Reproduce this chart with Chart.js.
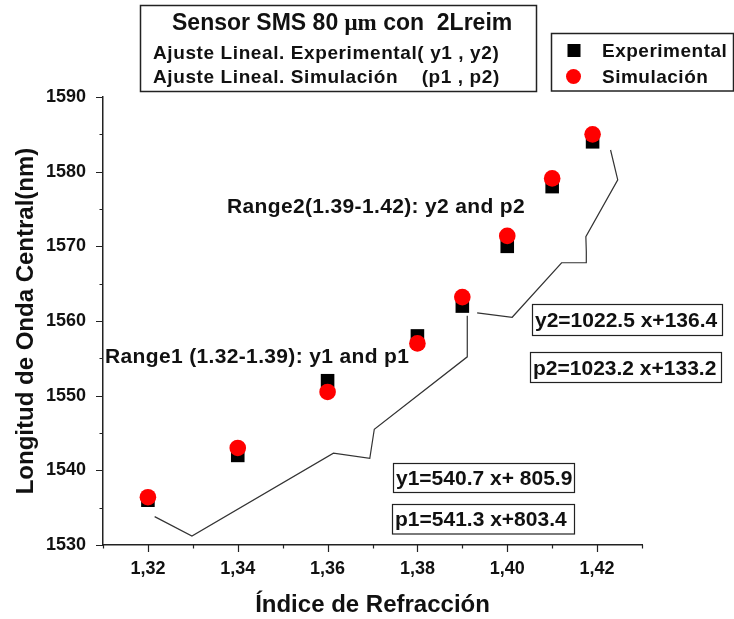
<!DOCTYPE html>
<html>
<head>
<meta charset="utf-8">
<script src="https://cdn.jsdelivr.net/npm/chart.js@4.4.0/dist/chart.umd.min.js"></script>
<style>
  html, body { margin: 0; padding: 0; background: #fff; }
  #wrap { width: 734px; height: 619px; }
</style>
</head>
<body>
<div id="wrap"><canvas id="c" width="734" height="619"></canvas></div>
<script>
// ---- data ----
const indices      = [1.32, 1.34, 1.36, 1.38, 1.39, 1.40, 1.41, 1.419];
const experimental = [1536, 1542, 1552, 1558, 1562, 1570, 1578, 1584];
const simulacion   = [1536.4, 1543, 1550.5, 1557, 1563.2, 1571.4, 1579.1, 1585];

// hand drawn guide line (two pieces)
const guideAX = [1.3215, 1.3298, 1.3613, 1.3694, 1.3704, 1.3911, 1.3911];
const guideAY = [1533.8, 1531.2, 1542.3, 1541.6, 1545.5, 1555.2, 1560.7];
const guideBX = [1.3933, 1.4011, 1.4121, 1.4176, 1.4176, 1.4175, 1.4246, 1.4230];
const guideBY = [1561.1, 1560.5, 1567.8, 1567.8, 1569.3, 1571.3, 1578.9, 1582.9];

// ticks
const xTicks      = [1.31, 1.32, 1.33, 1.34, 1.35, 1.36, 1.37, 1.38, 1.39, 1.40, 1.41, 1.42, 1.43];
const xTickLabels = ['', '1,32', '', '1,34', '', '1,36', '', '1,38', '', '1,40', '', '1,42', ''];
const yTicks      = [1530, 1535, 1540, 1545, 1550, 1555, 1560, 1565, 1570, 1575, 1580, 1585, 1590];
const yTickLabels = ['1530', '', '1540', '', '1550', '', '1560', '', '1570', '', '1580', '', '1590'];

const seriesNames = ['Experimental', 'Simulación'];
const equations = ['y2=1022.5 x+136.4', 'p2=1023.2 x+133.2', 'y1=540.7 x+ 805.9', 'p1=541.3 x+803.4'];
const rangeTexts = ['Range1 (1.32-1.39): y1 and p1', 'Range2(1.39-1.42): y2 and p2'];

const FONT = '"Liberation Sans", Arial, sans-serif';
Chart.defaults.font.family = FONT;

const toXY = (xs, ys) => xs.map((x, i) => ({ x: x, y: ys[i] }));

function text(ctx, str, x, y, font, align, spacing) {
    ctx.font = font;
    ctx.textAlign = align || 'left';
    ctx.textBaseline = 'alphabetic';
    ctx.letterSpacing = (spacing || 0) + 'px';
    ctx.fillText(str, x, y);
    ctx.letterSpacing = '0px';
}

function box(ctx, x, y, w, h, lw) {
    ctx.lineWidth = lw || 1.2;
    ctx.strokeStyle = '#222';
    ctx.strokeRect(x, y, w, h);
}

// ticks, titles and text boxes
const decorPlugin = {
    id: 'decor',
    afterDraw(chart) {
        const ctx = chart.ctx;
        const xs = chart.scales.x, ys = chart.scales.y;
        const area = chart.chartArea;
        ctx.save();
        ctx.fillStyle = '#111';
        ctx.strokeStyle = '#222';
        ctx.lineWidth = 1.2;

        // tick marks
        ctx.beginPath();
        xs.ticks.forEach((t, i) => {
            const px = Math.round(xs.getPixelForValue(t.value)) + 0.5;
            const len = xTickLabels[i] ? 7 : 3.5;
            ctx.moveTo(px, area.bottom);
            ctx.lineTo(px, area.bottom + len);
        });
        ys.ticks.forEach((t, i) => {
            const py = Math.round(ys.getPixelForValue(t.value)) + 0.5;
            const len = yTickLabels[i] ? 7 : 3.5;
            ctx.moveTo(area.left, py);
            ctx.lineTo(area.left - len, py);
        });
        ctx.stroke();

        // axis titles
        text(ctx, 'Índice de Refracción', (area.left + area.right) / 2, 612, 'bold 24px ' + FONT, 'center');
        ctx.save();
        ctx.translate(33, (area.top + area.bottom) / 2);
        ctx.rotate(-Math.PI / 2);
        text(ctx, 'Longitud de Onda Central(nm)', 0, 0, 'bold 24px ' + FONT, 'center');
        ctx.restore();

        // title box
        box(ctx, 140.5, 5.5, 396, 86, 1.5);
        let tx = 172;
        const parts = [
            ['Sensor SMS 80 ', 'bold 23px ' + FONT],
            ['\u03bcm', 'bold 23px "Liberation Serif", "Times New Roman", serif'],
            [' con  2Lreim', 'bold 23px ' + FONT]
        ];
        parts.forEach(p => {
            text(ctx, p[0], tx, 30, p[1]);
            ctx.font = p[1];
            tx += ctx.measureText(p[0]).width;
        });
        text(ctx, 'Ajuste Lineal. Experimental( y1 , y2)', 153, 59, 'bold 19px ' + FONT, 'left', 0.6);
        text(ctx, 'Ajuste Lineal. Simulación    (p1 , p2)', 153, 83, 'bold 19px ' + FONT, 'left', 0.6);

        // legend
        box(ctx, 551.5, 33.5, 182, 57.5, 1.5);
        const exp = chart.data.datasets[1], sim = chart.data.datasets[0];
        ctx.fillStyle = exp.backgroundColor;
        ctx.fillRect(567.5, 44, 13, 13);
        ctx.fillStyle = sim.backgroundColor;
        ctx.beginPath();
        ctx.arc(573.5, 76.5, 7.5, 0, Math.PI * 2);
        ctx.fill();
        ctx.fillStyle = '#111';
        text(ctx, exp.label, 602, 57, 'bold 19px ' + FONT, 'left', 0.5);
        text(ctx, sim.label, 602, 83, 'bold 19px ' + FONT, 'left', 0.5);

        // range labels
        text(ctx, rangeTexts[0], 105, 363, 'bold 21px ' + FONT, 'left', 0.35);
        text(ctx, rangeTexts[1], 227, 213, 'bold 21px ' + FONT, 'left', 0.35);

        // equation boxes
        const eqBoxes = [
            [532.5, 304.5, 190, 31, 327],
            [530.5, 352.5, 191, 30, 375],
            [393.5, 463.5, 181, 29, 485],
            [392.5, 504.5, 182, 29.5, 526]
        ];
        eqBoxes.forEach((b, i) => {
            box(ctx, b[0], b[1], b[2], b[3], 1.2);
            text(ctx, equations[i], b[0] + 2.5, b[4], 'bold 21px ' + FONT, 'left', 0);
        });
        ctx.restore();
    }
};

new Chart(document.getElementById('c'), {
    type: 'scatter',
    data: {
        datasets: [
            {
                label: seriesNames[1],
                data: toXY(indices, simulacion),
                pointStyle: 'circle',
                pointRadius: 8.3,
                backgroundColor: '#ff0000',
                borderColor: '#ff0000',
                borderWidth: 0,
                order: 0
            },
            {
                label: seriesNames[0],
                data: toXY(indices, experimental),
                pointStyle: 'rect',
                pointRadius: 9.6,
                backgroundColor: '#000000',
                borderColor: '#000000',
                borderWidth: 0,
                order: 1
            },
            {
                label: 'guideA',
                data: toXY(guideAX, guideAY),
                showLine: true,
                pointRadius: 0,
                borderColor: '#333',
                borderWidth: 1.2,
                tension: 0,
                order: 2
            },
            {
                label: 'guideB',
                data: toXY(guideBX, guideBY),
                showLine: true,
                pointRadius: 0,
                borderColor: '#333',
                borderWidth: 1.2,
                tension: 0,
                order: 2
            }
        ]
    },
    options: {
        responsive: false,
        animation: false,
        devicePixelRatio: 1,
        layout: { padding: { left: 0, top: 97, right: 92, bottom: 0 } },
        plugins: {
            legend: { display: false },
            tooltip: { enabled: false }
        },
        scales: {
            x: {
                type: 'linear',
                min: 1.31,
                max: 1.43,
                afterBuildTicks: s => { s.ticks = xTicks.map(v => ({ value: v })); },
                afterFit: s => { s.height = 74; },
                ticks: {
                    autoSkip: false,
                    maxRotation: 0,
                    padding: 13,
                    color: '#111',
                    font: { size: 18, weight: 'bold' },
                    callback: (v, i) => xTickLabels[i]
                },
                grid: { display: true, drawOnChartArea: false, drawTicks: false },
                border: { color: '#222', width: 1.5 }
            },
            y: {
                type: 'linear',
                min: 1530,
                max: 1590,
                afterBuildTicks: s => { s.ticks = yTicks.map(v => ({ value: v })); },
                afterFit: s => { s.width = 103; },
                ticks: {
                    autoSkip: false,
                    padding: 17,
                    color: '#111',
                    font: { size: 18, weight: 'bold' },
                    callback: (v, i) => yTickLabels[i]
                },
                grid: { display: true, drawOnChartArea: false, drawTicks: false },
                border: { color: '#222', width: 1.5 }
            }
        }
    },
    plugins: [decorPlugin]
});
</script>
</body>
</html>
